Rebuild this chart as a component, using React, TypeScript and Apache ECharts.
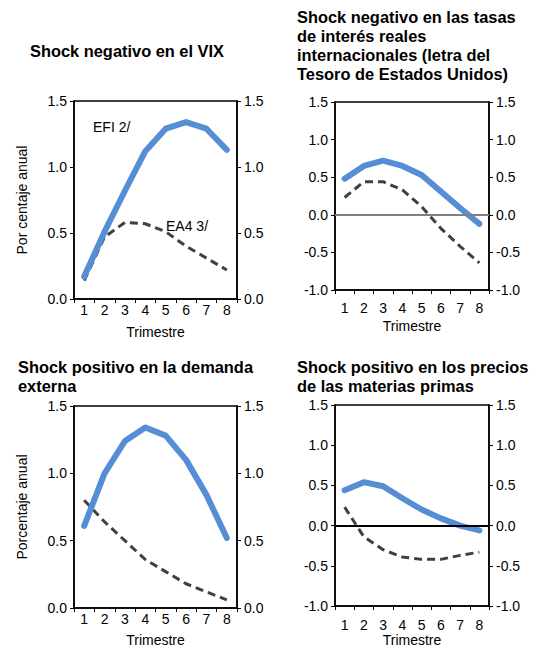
import React, { useEffect, useRef } from "react";
import * as echarts from "echarts";

const quarters = ["1", "2", "3", "4", "5", "6", "7", "8"];

// Panel 1: Shock negativo en el VIX
const vixEFI = [0.17, 0.51, 0.82, 1.12, 1.29, 1.34, 1.29, 1.13];
const vixEA4 = [0.14, 0.47, 0.58, 0.57, 0.51, 0.4, 0.31, 0.22];
// Panel 2: tasas de interés reales internacionales
const rateEFI = [0.48, 0.65, 0.72, 0.65, 0.53, 0.31, 0.09, -0.12];
const rateEA4 = [0.23, 0.44, 0.44, 0.33, 0.11, -0.18, -0.42, -0.64];
// Panel 3: demanda externa
const demEFI = [0.61, 1.0, 1.24, 1.34, 1.28, 1.1, 0.84, 0.52];
const demEA4 = [0.8, 0.64, 0.5, 0.36, 0.27, 0.18, 0.12, 0.06];
// Panel 4: precios de las materias primas
const comEFI = [0.44, 0.54, 0.49, 0.34, 0.2, 0.09, 0.0, -0.06];
const comEA4 = [0.23, -0.14, -0.3, -0.39, -0.42, -0.42, -0.37, -0.33];

const titles = [
  "Shock negativo en el VIX",
  "Shock negativo en las tasas\nde interés reales\ninternacionales (letra del\nTesoro de Estados Unidos)",
  "Shock positivo en la demanda\nexterna",
  "Shock positivo en los precios\nde las materias primas",
];

const FONT = "'Liberation Sans', Arial, sans-serif";
const BLUE = "#558ED5";
const DARK = "#404040";

export default function App() {
  const ref = useRef<HTMLDivElement>(null);
  useEffect(() => {
    if (!ref.current) return;
    const chart = echarts.init(ref.current, null, { renderer: "svg" });

    const grids = [
      { left: 74, top: 101, width: 163, height: 198 },
      { left: 335, top: 102, width: 154, height: 188 },
      { left: 74, top: 406, width: 163, height: 202 },
      { left: 335, top: 405, width: 154, height: 203 },
    ];
    const yRanges = [
      [0, 1.5],
      [-1, 1.5],
      [0, 1.5],
      [-1, 1.5],
    ];
    const yNames = ["Por centaje anual", "", "Porcentaje anual", ""];
    const xLabelMargins = [4, 11, 4, 12];
    const xNameGaps = [26, 29, 25, 27];
    const data = [
      [vixEFI, vixEA4],
      [rateEFI, rateEA4],
      [demEFI, demEA4],
      [comEFI, comEA4],
    ];
    const zeroLines: (string | null)[] = [null, "#808080", null, "#000000"];

    const axisLineStyle = { color: "#000", width: 1.5 };
    const xAxis: any[] = [];
    const yAxis: any[] = [];
    const series: any[] = [];

    grids.forEach((g, i) => {
      xAxis.push({
        type: "category",
        gridIndex: i,
        data: quarters,
        boundaryGap: true,
        axisLine: { show: true, onZero: false, lineStyle: axisLineStyle },
        axisTick: { show: true, inside: false, length: 4, lineStyle: { color: "#000", width: 1 } },
        axisLabel: { color: "#000", fontSize: 14, fontFamily: FONT, margin: xLabelMargins[i] },
        name: "Trimestre",
        nameLocation: "middle",
        nameGap: xNameGaps[i],
        nameTextStyle: { color: "#000", fontSize: 14, fontFamily: FONT },
        splitLine: { show: false },
      });
      const yCommon = {
        type: "value",
        gridIndex: i,
        min: yRanges[i][0],
        max: yRanges[i][1],
        interval: 0.5,
        axisLine: { show: true, onZero: false, lineStyle: axisLineStyle },
        axisTick: { show: true, inside: false, length: 4, lineStyle: { color: "#000", width: 1 } },
        axisLabel: {
          color: "#000",
          fontSize: 14,
          fontFamily: FONT,
          margin: 7,
          formatter: (v: number) => v.toFixed(1),
        },
        splitLine: { show: false },
      };
      yAxis.push({
        ...yCommon,
        position: "left",
        name: yNames[i],
        nameLocation: "middle",
        nameRotate: 90,
        nameGap: 45,
        nameTextStyle: { color: "#000", fontSize: 14, fontFamily: FONT },
      });
      yAxis.push({ ...yCommon, position: "right" });

      const zl = zeroLines[i];
      series.push({
        type: "line",
        name: "EA4 3/",
        xAxisIndex: i,
        yAxisIndex: i * 2,
        data: data[i][1],
        showSymbol: false,
        symbol: "none",
        lineStyle: { color: DARK, width: 3, type: [8, 5] },
        z: 3,
        markLine: zl
          ? {
              silent: true,
              symbol: "none",
              label: { show: false },
              lineStyle: { color: zl, width: 2, type: "solid" },
              data: [{ yAxis: 0 }],
            }
          : undefined,
      });
      series.push({
        type: "line",
        name: "EFI 2/",
        xAxisIndex: i,
        yAxisIndex: i * 2,
        data: data[i][0],
        showSymbol: false,
        symbol: "none",
        lineStyle: { color: BLUE, width: 6, join: "round", cap: "round" },
        z: 4,
      });
    });

    const titleTops = [41, 7, 357, 357];
    const titleLefts = [30, 297, 18, 297];

    chart.setOption({
      animation: false,
      backgroundColor: "#fff",
      title: titles.map((t, i) => ({
        text: t,
        left: titleLefts[i],
        top: titleTops[i],
        padding: 0,
        textStyle: {
          color: "#000",
          fontSize: 16.4,
          fontWeight: "bold",
          fontFamily: FONT,
          lineHeight: 19,
        },
      })),
      grid: grids.map((g) => ({
        ...g,
        show: true,
        borderColor: "#000",
        borderWidth: 1.5,
        backgroundColor: "transparent",
      })),
      xAxis,
      yAxis,
      series,
      graphic: [
        {
          type: "text",
          left: 93,
          top: 120,
          style: { text: "EFI 2/", fill: "#000", fontSize: 14, fontFamily: FONT },
        },
        {
          type: "text",
          left: 166,
          top: 219,
          style: { text: "EA4 3/", fill: "#000", fontSize: 14, fontFamily: FONT },
        },
      ],
    });
    return () => chart.dispose();
  }, []);

  return (
    <div
      ref={ref}
      style={{ position: "absolute", left: 0, top: 0, width: 534, height: 648 }}
    />
  );
}
